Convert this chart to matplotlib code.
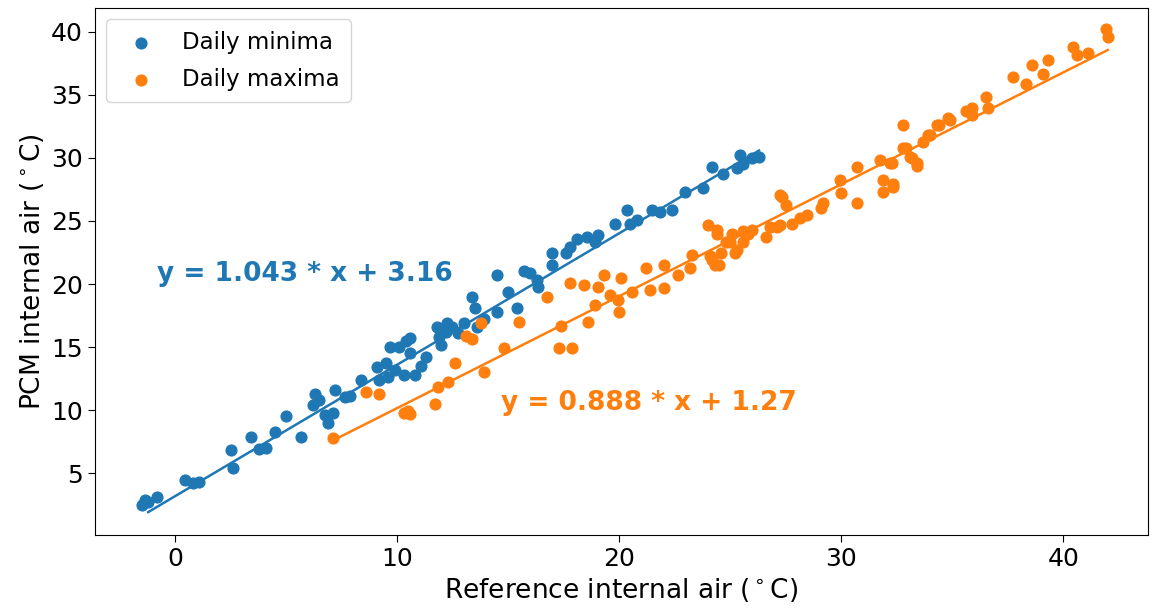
import numpy as np
import matplotlib
matplotlib.use('Agg')
import matplotlib.pyplot as plt

# daily minima: reference vs PCM internal air (deg C)
min_ref = [-1.5, -1.35, -1.2, -0.8, 0.45, 0.8, 1.1, 2.55, 2.6, 3.45, 3.8, 4.1, 4.5, 5.0,
           5.7, 6.3, 6.2, 6.5, 6.75, 6.9, 7.1, 7.2, 7.65, 7.9, 8.4, 9.1, 9.2, 9.5, 9.6,
           9.7, 9.9, 10.1, 10.3, 10.4, 10.6, 10.8, 10.6, 11.3, 11.1, 11.8, 11.9, 12.0,
           12.25, 12.5, 12.75, 12.2, 13.0, 13.4, 13.5, 13.6, 13.9, 14.5, 14.5, 15.0,
           15.4, 15.7, 16.0, 16.3, 16.35, 17.0, 17.0, 17.6, 17.8, 18.1, 18.55, 18.9,
           19.05, 19.8, 20.35, 20.5, 20.8, 21.5, 21.85, 22.4, 22.95, 23.8, 24.2, 24.7,
           25.3, 25.45, 26.0, 25.6, 26.3]
min_pcm = [2.5, 2.85, 2.7, 3.1, 4.45, 4.2, 4.3, 6.8, 5.4, 7.9, 6.9, 7.0, 8.3, 9.5,
           7.9, 11.3, 10.4, 10.8, 9.6, 9.0, 9.8, 11.6, 11.0, 11.1, 12.4, 13.4, 12.4, 13.7, 12.6,
           15.0, 13.2, 15.0, 12.8, 15.5, 14.5, 12.8, 15.7, 14.2, 13.5, 16.6, 15.8, 15.2,
           16.9, 16.6, 16.1, 16.2, 16.9, 19.0, 18.1, 16.6, 17.2, 17.8, 20.7, 19.4,
           18.1, 21.0, 20.9, 20.3, 19.8, 22.5, 21.5, 22.5, 22.9, 23.6, 23.7, 23.3,
           23.9, 24.8, 25.9, 24.8, 25.1, 25.9, 25.7, 25.9, 27.3, 27.6, 29.3, 28.7,
           29.2, 30.2, 30.0, 29.5, 30.1]

# daily maxima
max_ref = [7.1, 8.6, 9.2, 10.3, 10.6, 10.5, 11.7, 11.85, 12.3, 12.6, 13.1, 13.4, 13.8,
           13.9, 14.8, 15.5, 16.75, 17.4, 17.3, 17.9, 17.8, 18.4, 18.6, 18.9, 19.05,
           19.3, 19.6, 19.95, 20.0, 20.1, 20.6, 21.2, 21.4, 22.0, 22.0, 22.65, 23.2,
           23.3, 24.0, 24.4, 24.2, 24.5, 24.6, 24.1, 24.3, 24.4, 24.8, 25.0, 25.1, 25.2,
           25.3, 25.6, 25.6, 25.8, 26.0, 26.6, 26.8, 27.1, 27.25, 27.25, 27.35, 27.5,
           27.8, 28.15, 28.45, 29.1, 29.2, 29.95, 30.0, 30.7, 30.7, 31.75, 31.9, 31.9,
           32.35, 32.2, 32.3, 32.35, 32.8, 32.8, 32.9, 33.1, 33.2, 33.4, 33.4, 33.7,
           33.9, 34.0, 34.3, 34.4, 34.8, 34.9, 35.6, 35.9, 35.9, 36.5, 36.6, 37.75,
           38.3, 38.6, 39.1, 39.3, 40.45, 40.6, 41.1, 41.9, 42.0]
max_pcm = [7.8, 11.4, 11.3, 9.8, 9.7, 9.9, 10.5, 11.8, 12.2, 13.7, 15.9, 15.6, 16.9,
           13.0, 14.9, 17.0, 19.0, 16.7, 14.9, 14.9, 20.1, 19.9, 17.0, 18.3, 19.8,
           20.7, 19.1, 18.7, 17.8, 20.5, 19.4, 21.3, 19.5, 19.7, 21.5, 20.7, 21.3,
           22.3, 24.7, 24.3, 21.9, 21.5, 22.5, 22.2, 21.5, 24.0, 23.3, 23.3, 24.0, 22.5,
           22.7, 23.3, 24.2, 24.0, 24.3, 23.7, 24.5, 24.5, 24.7, 27.1, 26.9, 26.3,
           24.8, 25.2, 25.5, 26.0, 26.4, 28.25, 27.2, 26.4, 29.3, 29.8, 28.25, 27.3,
           27.7, 29.6, 29.6, 27.9, 32.6, 30.8, 30.8, 30.1, 30.0, 29.6, 29.4, 31.3,
           31.8, 31.8, 32.6, 32.6, 33.2, 33.0, 33.7, 34.0, 33.4, 34.8, 34.0, 36.4,
           35.9, 37.4, 36.7, 37.8, 38.8, 38.2, 38.3, 40.2, 39.6]

# fitted lines (slope, intercept) as printed on the chart
min_fit = (1.043, 3.16)
max_fit = (0.888, 1.27)

c_min = '#1f77b4'
c_max = '#ff7f0e'

fig, ax = plt.subplots(figsize=(11.57, 6.12), dpi=100)
fig.subplots_adjust(left=0.082, right=0.992, top=0.987, bottom=0.126)

ax.scatter(min_ref, min_pcm, s=60, color=c_min, label='Daily minima')
ax.scatter(max_ref, max_pcm, s=60, color=c_max, label='Daily maxima')

xa = np.array([-1.2, max(min_ref)])
ax.plot(xa, min_fit[0] * xa + min_fit[1], color=c_min, lw=1.8)
xb = np.array([min(max_ref), max(max_ref)])
ax.plot(xb, max_fit[0] * xb + max_fit[1], color=c_max, lw=1.8)

ax.text(-0.8, 20.8, 'y = %.3f * x + %.2f' % min_fit, color=c_min,
        fontsize=19, fontweight='bold', va='center')
ax.text(14.7, 10.6, 'y = %.3f * x + %.2f' % max_fit, color=c_max,
        fontsize=19, fontweight='bold', va='center')

ax.set_xlim(-3.6, 43.8)
ax.set_ylim(0.1, 41.9)
ax.set_xticks([0, 10, 20, 30, 40])
ax.set_yticks([5, 10, 15, 20, 25, 30, 35, 40])
ax.tick_params(labelsize=18, length=5)
ax.set_xlabel(r'Reference internal air ($^\circ$C)', fontsize=19)
ax.set_ylabel(r'PCM internal air ($^\circ$C)', fontsize=19)
ax.legend(loc='upper left', fontsize=16.5, labelspacing=0.6, borderpad=0.5)

plt.savefig('out.png')
